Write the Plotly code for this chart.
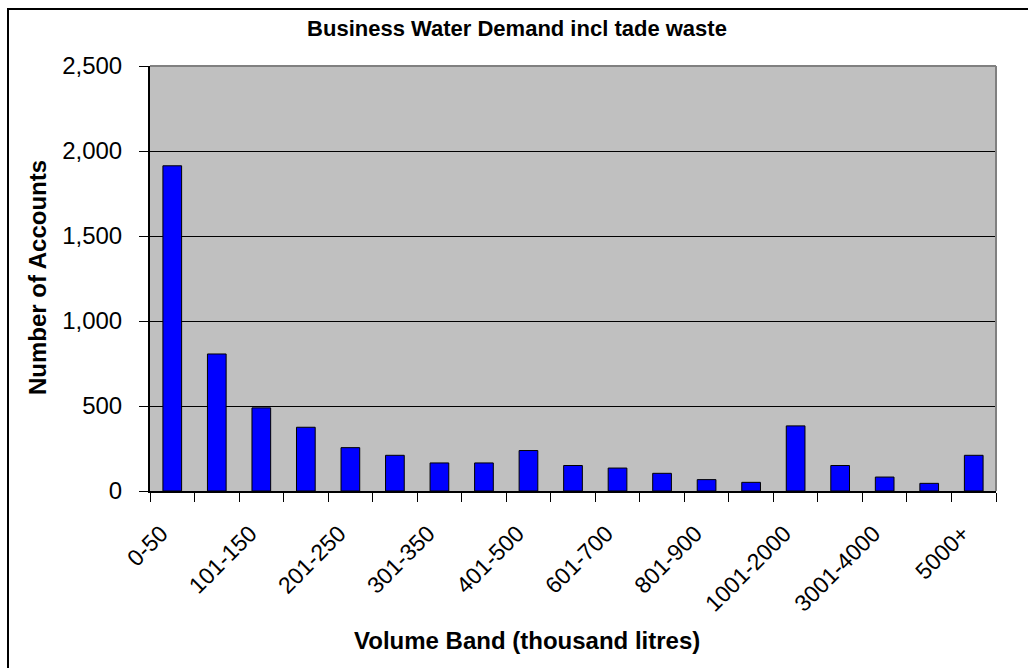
import plotly.graph_objects as go

# Volume bands (thousand litres) and number of accounts in each band
bands = [
    "0-50", "51-100", "101-150", "151-200", "201-250", "251-300",
    "301-350", "351-400", "401-500", "501-600", "601-700", "701-800",
    "801-900", "901-1000", "1001-2000", "2001-3000", "3001-4000",
    "4001-5000", "5000+",
]
accounts = [
    1913, 806, 489, 375, 255, 210, 165, 165, 238, 150,
    135, 104, 67, 51, 383, 150, 82, 45, 210,
]
y_ticks = [0, 500, 1000, 1500, 2000, 2500]

positions = list(range(len(bands)))
# every other band is labelled; rotated labels sit slightly left of the bar centre
label_shift = -0.25
label_positions = [p + label_shift for p in positions[::2]]
label_text = bands[::2]

W, H = 1028, 668
L, R, T, B = 150, 32, 66, 177
pw, ph = W - L - R, H - T - B

def px_x(p):
    return (p - L) / pw

def px_y(p):
    return (H - B - p) / ph

FONT = "Liberation Sans, Arial, sans-serif"

fig = go.Figure(
    go.Bar(
        x=positions,
        y=accounts,
        width=0.42,
        marker=dict(color="#0000FF", line=dict(color="#000000", width=1)),
        hovertext=bands,
    )
)

fig.update_layout(
    width=W,
    height=H,
    margin=dict(l=L, r=R, t=T, b=B),
    paper_bgcolor="#FFFFFF",
    plot_bgcolor="#C0C0C0",
    showlegend=False,
    font=dict(family=FONT, color="#000000"),
    title=dict(
        text="<b>Business Water Demand incl tade waste</b>",
        x=517 / W,
        xanchor="center",
        y=1 - 28 / H,
        yanchor="middle",
        font=dict(size=22, family=FONT),
    ),
)

fig.update_xaxes(
    range=[-0.5, len(bands) - 0.5],
    tickmode="array",
    tickvals=label_positions,
    ticktext=label_text,
    tickangle=-45,
    ticks="",
    tickfont=dict(size=23, family=FONT),
    ticklabelstandoff=18,
    showgrid=False,
    zeroline=False,
    showline=True,
    linecolor="#000000",
    linewidth=2,
    minor=dict(
        tickmode="linear",
        tick0=-0.5,
        dtick=1,
        ticks="outside",
        ticklen=9,
        tickcolor="#000000",
        tickwidth=1,
        showgrid=False,
    ),
)

fig.update_yaxes(
    range=[0, 2500],
    tickmode="array",
    tickvals=y_ticks,
    tickformat=",",
    ticks="outside",
    ticklen=9,
    tickcolor="#000000",
    tickfont=dict(size=24, family=FONT),
    ticklabelstandoff=12,
    showgrid=True,
    gridcolor="#000000",
    gridwidth=1,
    zeroline=False,
    showline=True,
    linecolor="#000000",
    linewidth=2,
)

# plot area frame (top and right edges in grey)
fig.add_shape(
    type="line", xref="paper", yref="paper",
    x0=0, x1=1, y0=1, y1=1,
    line=dict(color="#808080", width=2),
)
fig.add_shape(
    type="line", xref="paper", yref="paper",
    x0=1, x1=1, y0=0, y1=1,
    line=dict(color="#808080", width=2),
)

# outer chart border
fig.add_shape(
    type="rect", xref="paper", yref="paper",
    x0=px_x(8), x1=px_x(1040), y0=px_y(690), y1=px_y(9),
    line=dict(color="#000000", width=2),
    fillcolor="rgba(0,0,0,0)",
    layer="below",
)

fig.add_annotation(
    text="<b>Volume Band (thousand litres)</b>",
    xref="paper", yref="paper",
    x=px_x(527), y=px_y(640),
    xanchor="center", yanchor="middle",
    showarrow=False,
    font=dict(size=24, family=FONT),
)
fig.add_annotation(
    text="<b>Number of Accounts</b>",
    xref="paper", yref="paper",
    x=px_x(37), y=px_y(278),
    xanchor="center", yanchor="middle",
    textangle=-90,
    showarrow=False,
    font=dict(size=24, family=FONT),
)

fig.write_html("out.html")
